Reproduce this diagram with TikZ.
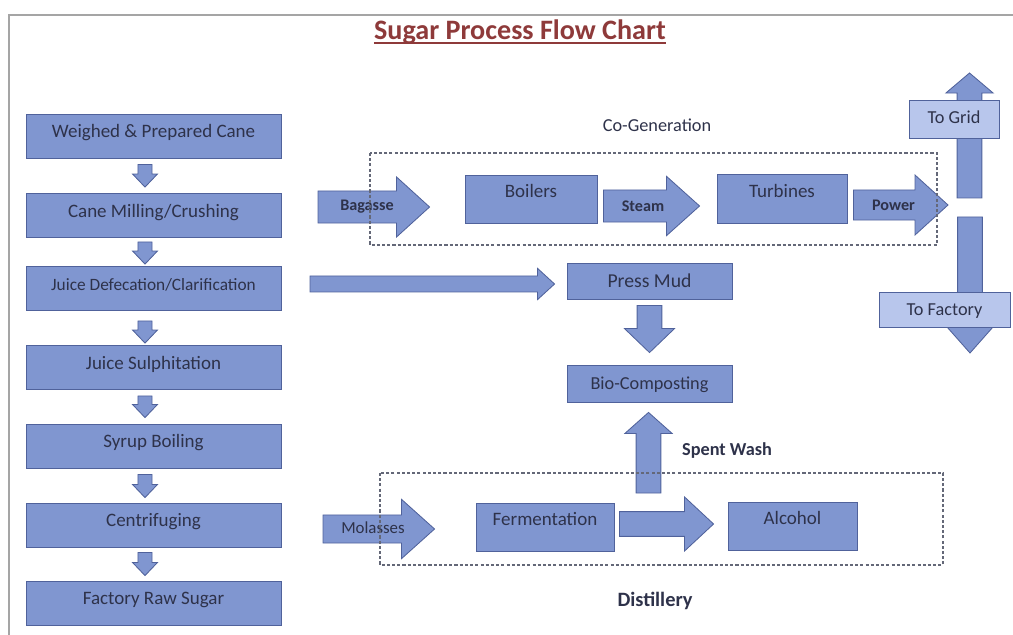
\documentclass[tikz,border=0pt]{standalone}
\usepackage{fontspec}
\setmainfont{Carlito}
\usetikzlibrary{calc, backgrounds}

\definecolor{boxfill}{RGB}{128,150,208}
\definecolor{boxline}{RGB}{80,98,155}
\definecolor{lightfill}{RGB}{184,198,236}
\definecolor{inktxt}{RGB}{46,50,74}
\definecolor{titlered}{RGB}{142,58,58}
\definecolor{zonegray}{RGB}{100,104,120}
\definecolor{framegray}{RGB}{165,165,165}

\tikzstyle{stage} = [rectangle, draw=boxline, fill=boxfill, text=inktxt, line width=0.6pt, inner sep=0pt, minimum width=6.375cm, minimum height=1.1cm, text height=9pt, text depth=6.3pt, font=\fontsize{13.5}{16}\selectfont]
\tikzstyle{unit} = [rectangle, draw=boxline, fill=boxfill, text=inktxt, line width=0.6pt, inner sep=0pt, minimum height=1.2cm, text height=9pt, text depth=11pt, font=\fontsize{13.5}{16}\selectfont]
\tikzstyle{flat} = [rectangle, draw=boxline, fill=boxfill, text=inktxt, line width=0.6pt, inner sep=0pt, text height=9pt, text depth=0pt, font=\fontsize{13.5}{16}\selectfont]
\tikzstyle{outlet} = [rectangle, draw=boxline, fill=lightfill, text=inktxt, line width=0.6pt, inner sep=0pt, text height=9pt, text depth=0pt, font=\fontsize{13}{16}\selectfont]
\tikzstyle{tag} = [inner sep=0pt, text=inktxt, text height=8pt, text depth=0pt, font=\bfseries\fontsize{11.5}{14}\selectfont]
\tikzstyle{caption} = [inner sep=0pt, text=inktxt, text height=9pt, text depth=0pt, font=\fontsize{13}{16}\selectfont]
\tikzstyle{titletext} = [inner sep=0pt, text=titlered, font=\bfseries\fontsize{20}{24}\selectfont]
\tikzstyle{arrowbody} = [fill=boxfill, draw=boxline, line width=0.6pt]
\tikzstyle{zone} = [draw=zonegray, line width=0.75pt, dash pattern=on 2.2pt off 1.5pt]

% block arrow: [options]{from}{to}{shaft half width}{head half width}{head length}
\newcommand{\fatarrow}[6][]{%
  \coordinate (fas) at (#2);
  \coordinate (fae) at (#3);
  \coordinate (fah) at ($(fae)!#6!(fas)$);
  \filldraw[arrowbody, #1] ($(fas)!#4!90:(fae)$) -- ($(fah)!#4!90:(fae)$) -- ($(fah)!#5!90:(fae)$) -- (fae)
    -- ($(fah)!#5!-90:(fae)$) -- ($(fah)!#4!-90:(fae)$) -- ($(fas)!#4!-90:(fae)$) -- cycle;
}

\begin{document}
\begin{tikzpicture}[x=0.025cm, y=-0.025cm]
  \useasboundingbox (0,0) rectangle (1013,635);

  \draw[framegray, line width=0.9pt] (1013,15) -- (9,15) -- (9,635);

  \node[titletext, anchor=base] (title) at (520,40) {Sugar Process Flow Chart};
  \draw[titlered, line width=1pt] ($(title.base west)+(0,3)$) -- ($(title.base east)+(0,3)$);

  % sugar line
  \node[stage] (b1) at (153.5,136) {Weighed \& Prepared Cane};
  \node[stage] (b2) at (153.5,215.5) {Cane Milling/Crushing};
  \node[stage, font=\fontsize{12.3}{14}\selectfont] (b3) at (153.5,288.5) {Juice Defecation/Clarification};
  \node[stage] (b4) at (153.5,367.5) {Juice Sulphitation};
  \node[stage] (b5) at (153.5,446) {Syrup Boiling};
  \node[stage] (b6) at (153.5,525) {Centrifuging};
  \node[stage] (b7) at (153.5,603) {Factory Raw Sugar};

  % co-generation
  \node[caption] (cogen) at (657,125) {Co-Generation};
  \node[unit, minimum width=3.3cm] (boil) at (531,199) {Boilers};
  \node[unit, minimum width=3.25cm, minimum height=1.225cm] (turb) at (782,198.5) {Turbines};
  \node[outlet, minimum width=2.25cm, minimum height=0.95cm, text depth=3pt] (grid) at (954,119) {To Grid};
  \node[outlet, minimum width=3.275cm, minimum height=0.875cm] (fact) at (944.5,309.5) {To Factory};

  % press mud
  \node[flat, minimum width=4.125cm, minimum height=0.9cm, font=\fontsize{14}{16}\selectfont] (press) at (649.5,281) {Press Mud};
  \node[flat, minimum width=4.125cm, minimum height=0.925cm, font=\fontsize{13}{16}\selectfont] (bio) at (649.5,383.5) {Bio-Composting};

  % distillery
  \node[caption, font=\bfseries\fontsize{13}{16}\selectfont] (spent) at (727,449) {Spent Wash};
  \node[unit, minimum width=3.45cm] (ferm) at (545,527) {Fermentation};
  \node[unit, minimum width=3.225cm] (alc) at (792.5,526) {Alcohol};
  \node[caption, font=\bfseries\fontsize{14.5}{16}\selectfont] (distl) at (655,600) {Distillery};

  % free ends
  \coordinate (bagS) at (318,207);
  \coordinate (pwrE) at (948,205);
  \coordinate (gridS) at (969.5,198);
  \coordinate (gridE) at (969.5,73);
  \coordinate (factS) at (970,217);
  \coordinate (factE) at (970,353);
  \coordinate (mudS) at (310,284);
  \coordinate (washS) at (648.5,493);
  \coordinate (molS) at (323,529);

  \begin{scope}[on background layer]
    \fatarrow{$(b1.south)+(-8.5,6)$}{$(b2.north)+(-8.5,-6)$}{1.75mm}{3.1mm}{3.25mm}
    \fatarrow{$(b2.south)+(-8.5,4)$}{$(b3.north)+(-8.5,-2)$}{1.75mm}{3.1mm}{3.25mm}
    \fatarrow{$(b3.south)+(-8.5,10)$}{$(b4.north)+(-8.5,-2)$}{1.75mm}{3.1mm}{3.25mm}
    \fatarrow{$(b4.south)+(-8.5,6)$}{$(b5.north)+(-8.5,-6)$}{1.75mm}{3.1mm}{3.25mm}
    \fatarrow{$(b5.south)+(-8.5,6)$}{$(b6.north)+(-8.5,-5)$}{1.75mm}{3.1mm}{3.25mm}
    \fatarrow{$(b6.south)+(-8.5,5)$}{$(b7.north)+(-8.5,-5)$}{1.75mm}{3.1mm}{3.25mm}

    \fatarrow{bagS}{$(boil.west)+(-35,8)$}{4mm}{7.5mm}{8.25mm}
    \fatarrow{$(boil.east)+(6,7)$}{$(turb.west)+(-17,7.5)$}{4mm}{7.4mm}{8.25mm}
    \fatarrow{$(turb.east)+(6,6.5)$}{pwrE}{3.75mm}{7.5mm}{8.25mm}
    \fatarrow{gridS}{gridE}{3.1mm}{5.9mm}{5mm}
    \fatarrow{factS}{factE}{3.1mm}{5.75mm}{6.5mm}

    \fatarrow{mudS}{$(press.west)+(-12,3)$}{2mm}{3.9mm}{4.25mm}
    \fatarrow{$(press.south)+(0,6)$}{$(bio.north)+(0,-12)$}{3.1mm}{6.25mm}{6mm}
    \fatarrow{washS}{$(bio.south)+(-1,10)$}{3.1mm}{5.9mm}{5.25mm}

    \fatarrow{molS}{$(ferm.west)+(-41,2)$}{3.5mm}{7.4mm}{8.25mm}
    \fatarrow{$(ferm.east)+(5,-3)$}{$(alc.west)+(-14,-2)$}{3.1mm}{6.75mm}{7.25mm}
  \end{scope}

  \node[tag] (bagasse) at (367,205) {Bagasse};
  \node[tag] (steam) at (643,206) {Steam};
  \node[tag] (power) at (893.5,205) {Power};
  \node[tag, font=\fontsize{12}{14}\selectfont] (molasses) at (373,528) {Molasses};

  \draw[zone] (370,153) rectangle (937,245);
  \draw[zone] (380,473) rectangle (943,565);
\end{tikzpicture}
\end{document}
